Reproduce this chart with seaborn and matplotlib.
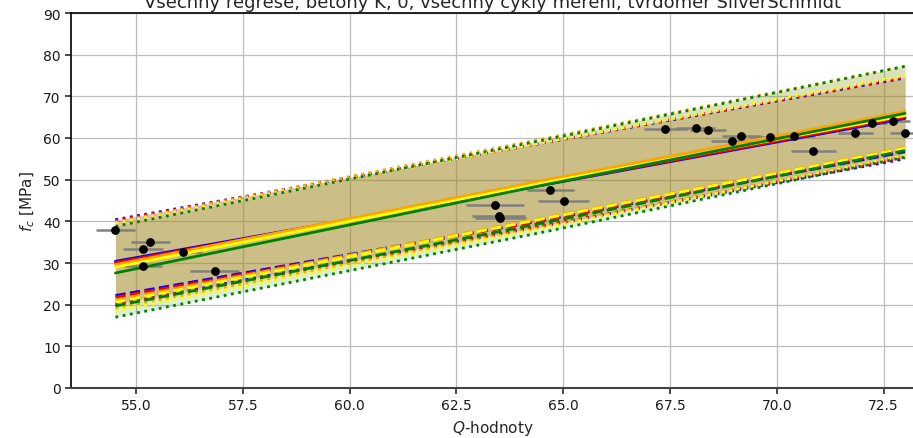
import matplotlib
matplotlib.use("Agg")
import matplotlib.pyplot as plt
import numpy as np
import seaborn as sns

# měřené body: Q-hodnoty (SilverSchmidt) a pevnost f_c
q_values = [54.52, 55.34, 55.16, 56.09, 55.16, 56.84, 63.40, 63.49, 63.53, 64.70, 65.01,
            67.39, 68.10, 68.39, 68.95, 69.17, 69.84, 70.39, 70.85, 71.83, 72.23, 72.72, 73.00]
fc_values = [37.9, 35.0, 33.4, 32.7, 29.4, 28.1, 43.9, 41.2, 40.8, 47.6, 44.8,
             62.2, 62.3, 62.0, 59.4, 60.5, 60.3, 60.6, 56.8, 61.1, 63.5, 64.1, 61.3]
q_err = [0.46, 0.46, 0.47, 0.45, 0.45, 0.58, 0.68, 0.62, 0.60, 0.55, 0.60,
         0.50, 0.45, 0.42, 0.50, 0.45, 0.50, 0.50, 0.53, 0.41, 0.35, 0.40, 0.35]
fc_err = [0.5] * len(q_values)

# regrese: hodnoty odečtené v bodech Q = [min, 64.58, max]
q_fit = [54.52, 64.58, 73.00]
fit_colors = ["blue", "red", "orange", "yellow", "green"]
fill_order = [1, 0, 2, 4, 3]  # poradi vyplni (barvy se michaji)
fill_alpha = [0.14, 0.14, 0.14, 0.18, 0.14]
fit_center = [[30.4, 48.8, 64.7],
              [30.1, 48.9, 65.0],
              [29.6, 49.9, 66.4],
              [29.0, 49.3, 65.4],
              [27.6, 48.8, 65.9]]
pred_upper = [[40.4, 58.9, 74.4],
              [40.2, 59.0, 74.6],
              [39.8, 59.9, 77.2],
              [39.6, 59.0, 75.0],
              [38.8, 59.6, 77.2]]
char_lower = [[22.2, 40.3, 56.7],
              [21.8, 40.3, 57.1],
              [21.1, 40.9, 57.7],
              [20.6, 40.7, 57.5],
              [19.7, 39.7, 57.0]]
pred_lower = [[20.4, 39.0, 55.0],
              [20.0, 39.0, 55.3],
              [19.2, 38.7, 55.9],
              [18.4, 38.4, 55.8],
              [17.0, 37.5, 55.4]]


def plot_regrese():
    sns.set_theme(style="ticks")
    plt.rcParams["font.family"] = ["DejaVu Sans"]

    fig = plt.figure(figsize=(9.13, 4.39), dpi=100)
    ax = fig.add_axes([71 / 913, 50 / 439, 843 / 913, 375 / 439])

    for i in fill_order:
        ax.fill_between(q_fit, pred_lower[i], pred_upper[i], color=fit_colors[i],
                        alpha=fill_alpha[i], lw=0, zorder=1)

    ax.errorbar(q_values, fc_values, xerr=q_err, yerr=fc_err, fmt="none",
                ecolor="gray", elinewidth=1.8, capsize=0, zorder=2)

    for i, color in enumerate(fit_colors):
        sns.lineplot(x=q_fit, y=fit_center[i], color=color, lw=2, ax=ax, zorder=3)
        ax.plot(q_fit, pred_upper[i], color=color, lw=2, ls=":", zorder=3)
        ax.plot(q_fit, pred_lower[i], color=color, lw=2, ls=":", zorder=3)
        ax.plot(q_fit, char_lower[i], color=color, lw=2, ls="--", zorder=3)

    ax.scatter(q_values, fc_values, color="black", s=28, zorder=4)

    ax.set_xlim(53.48, 73.21)
    ax.set_ylim(0, 90)
    ax.set_xticks(np.arange(55.0, 73.0, 2.5))
    ax.set_yticks(np.arange(0, 91, 10))
    ax.grid(True, color="#bdbdbd", lw=0.9)
    ax.set_axisbelow(True)
    for side in ["top", "left"]:
        ax.spines[side].set_color("black")
        ax.spines[side].set_linewidth(1.2)
    ax.spines["bottom"].set_color("#444444")
    ax.spines["bottom"].set_linewidth(1.5)
    ax.tick_params(labelsize=10, length=4, color="#333333", colors="#1a1a1a")

    ax.set_xlabel("$Q$-hodnoty", fontsize=11)
    ax.set_ylabel("$f_c$ [MPa]", fontsize=11)
    ax.set_title("Všechny regrese, betony K, 0, všechny cykly měření, tvrdoměr SilverSchmidt",
                 fontsize=13, pad=4)

    fig.savefig("out.png", dpi=100)
    plt.close(fig)


if __name__ == "__main__":
    plot_regrese()
